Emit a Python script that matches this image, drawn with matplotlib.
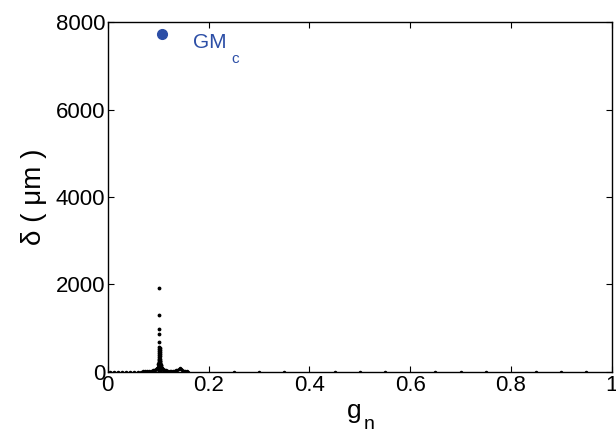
import matplotlib
matplotlib.use("Agg")
import matplotlib.pyplot as plt

plt.rcParams['font.family'] = ['Liberation Sans', 'DejaVu Sans']

# sparse points lying on the axis
flat_g = [0.004, 0.012, 0.02, 0.028, 0.036, 0.044, 0.052, 0.06, 0.25, 0.3, 0.35,
          0.45, 0.5, 0.55, 0.65, 0.7, 0.75, 0.85, 0.9, 0.95]
flat_d = [0] * len(flat_g)

# low cluster around g_n ~ 0.1
base_g = [0.066, 0.07, 0.074, 0.078, 0.082, 0.086, 0.089, 0.092, 0.094, 0.096, 0.098,
          0.1, 0.101, 0.105, 0.106, 0.107, 0.108, 0.109, 0.11, 0.112, 0.114, 0.116,
          0.118, 0.12, 0.123, 0.126, 0.129, 0.132, 0.135, 0.138, 0.141, 0.143, 0.145,
          0.148, 0.151, 0.154, 0.157, 0.16]
base_d = [5, 10, 15, 20, 25, 30, 35, 45, 55, 70, 90,
          120, 150, 160, 130, 100, 80, 65, 55, 45, 40, 35,
          30, 28, 25, 22, 20, 30, 40, 55, 70, 85, 60,
          35, 25, 15, 10, 5]

# spike at g_n ~ 0.102
spike_g = [0.102, 0.102, 0.102, 0.102, 0.102, 0.102, 0.103, 0.102, 0.103, 0.102,
           0.103, 0.102, 0.103, 0.102, 0.103, 0.102, 0.103, 0.102, 0.103, 0.102,
           0.103, 0.102, 0.103, 0.101, 0.104, 0.102, 0.103, 0.101, 0.104, 0.102,
           0.103, 0.101, 0.104, 0.102, 0.101, 0.104, 0.101, 0.104, 0.1, 0.105,
           0.101, 0.104, 0.1, 0.105, 0.101, 0.104]
spike_d = [1930, 1300, 975, 862, 693, 580, 555, 530, 505, 480,
           455, 430, 405, 380, 355, 330, 305, 280, 255, 230,
           210, 190, 170, 150, 140, 125, 110, 95, 85, 70,
           55, 45, 35, 20, 300, 260, 230, 200, 170, 150,
           120, 100, 80, 60, 40, 25]

gm_g = [0.108]
gm_d = [7730]

blue = '#2c4ea6'

fig = plt.figure(figsize=(6.16, 4.36), dpi=100)
ax = fig.add_axes([0.175, 0.147, 0.818, 0.802])

ax.plot(flat_g, flat_d, 'k.', markersize=3)
ax.plot(base_g, base_d, 'k.', markersize=3)
ax.plot(spike_g, spike_d, 'k.', markersize=3.5)
ax.plot(gm_g, gm_d, 'o', color=blue, markersize=7)
ax.text(0.169, 7530, 'GM', color=blue, fontsize=15, va='center', ha='left')
ax.text(0.246, 7170, 'c', color=blue, fontsize=11, va='center', ha='left')

ax.set_xlim(0, 1)
ax.set_ylim(0, 8000)
ax.set_xticks([0, 0.2, 0.4, 0.6, 0.8, 1])
ax.set_xticklabels(['0', '0.2', '0.4', '0.6', '0.8', '1'])
ax.set_yticks([0, 2000, 4000, 6000, 8000])
ax.tick_params(direction='in', top=True, right=True, length=4, labelsize=16, pad=2)
for s in ax.spines.values():
    s.set_linewidth(1.0)

# axis labels with MATLAB-like subscript
fig.text(347 / 616, 1 - 411 / 436, 'g', fontsize=19, ha='left', va='center')
fig.text(364 / 616, 1 - 424 / 436, 'n', fontsize=14, ha='left', va='center')
ax.set_ylabel('δ ( μm )', fontsize=20, labelpad=6)

fig.savefig('out.png', dpi=100)
